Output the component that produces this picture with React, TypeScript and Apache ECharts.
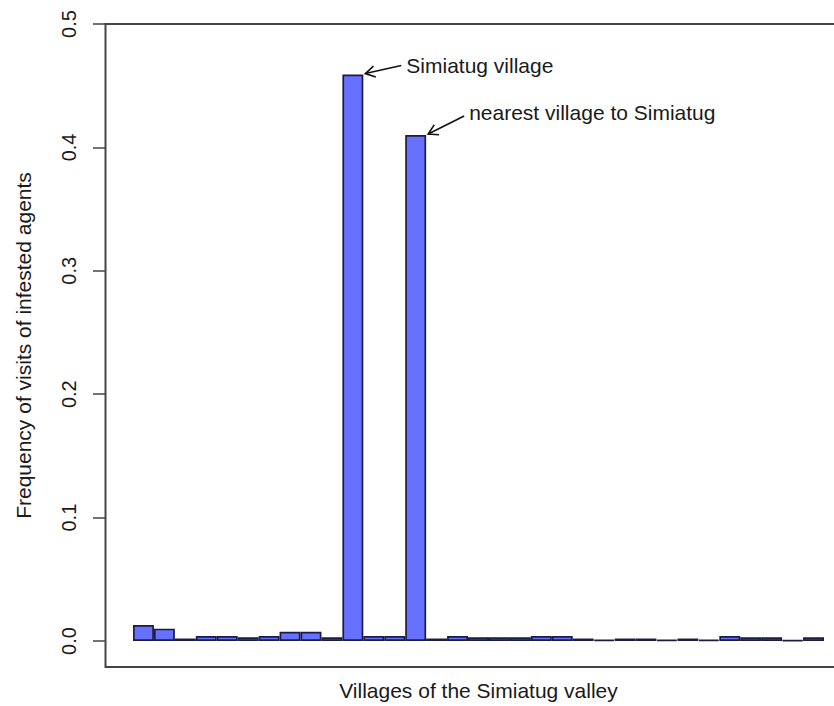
import React, { useEffect, useRef } from "react";
import * as echarts from "echarts";

const villages: string[] = [
  "1", "2", "3", "4", "5", "6", "7", "8", "9", "10", "11",
  "12", "13", "14", "15", "16", "17", "18", "19", "20", "21", "22",
  "23", "24", "25", "26", "27", "28", "29", "30", "31", "32", "33",
];

const frequencies: number[] = [
  0.013, 0.010, 0.002, 0.004, 0.004, 0.003, 0.004, 0.0075, 0.0075, 0.003, 0.459,
  0.004, 0.004, 0.41, 0.002, 0.004, 0.003, 0.003, 0.003, 0.004, 0.004, 0.002,
  0.001, 0.002, 0.002, 0.001, 0.002, 0.001, 0.004, 0.003, 0.003, 0.0005, 0.003,
];

const yTicks: number[] = [0, 0.1, 0.2, 0.3, 0.4, 0.5];

const annotations = [
  { index: 10, label: "Simiatug village" },
  { index: 13, label: "nearest village to Simiatug" },
];

const xTitle = "Villages of the Simiatug valley";
const yTitle = "Frequency of visits of infested agents";

const FONT = "'Liberation Sans', Arial, Helvetica, sans-serif";
const TEXT_COLOR = "#1a1a1a";
const LINE_COLOR = "#444444";

export default function App() {
  const ref = useRef<HTMLDivElement>(null);

  useEffect(() => {
    if (!ref.current) return;
    const chart = echarts.init(ref.current, undefined, { renderer: "svg" });
    chart.setOption({
      animation: false,
      backgroundColor: "#ffffff",
      grid: { left: 133, right: 10, top: 24, bottom: 65 },
      xAxis: {
        type: "category",
        data: villages,
        boundaryGap: true,
        axisLine: { show: false },
        axisTick: { show: false },
        axisLabel: { show: false },
        splitLine: { show: false },
        name: xTitle,
        nameLocation: "middle",
        nameGap: 39,
        nameTextStyle: { fontFamily: FONT, fontSize: 21, color: TEXT_COLOR },
      },
      yAxis: {
        type: "value",
        min: yTicks[0],
        max: yTicks[yTicks.length - 1],
        interval: 0.1,
        offset: 28,
        axisLine: { show: false },
        axisTick: {
          show: true,
          length: 12,
          lineStyle: { color: LINE_COLOR, width: 1.5 },
        },
        splitLine: { show: false },
        axisLabel: {
          rotate: 90,
          margin: 26,
          fontFamily: FONT,
          fontSize: 20,
          color: TEXT_COLOR,
          formatter: (v: number) => v.toFixed(1),
        },
      },
      series: [
        {
          type: "bar",
          data: frequencies,
          barCategoryGap: "0%",
          itemStyle: {
            color: "#6672ff",
            borderColor: "#1c1c40",
            borderWidth: 1.7,
          },
        },
      ],
    });

    // Build annotation graphics from the data positions
    const p0 = chart.convertToPixel({ seriesIndex: 0 }, [0, 0]) as number[];
    const p1 = chart.convertToPixel({ seriesIndex: 0 }, [1, 0]) as number[];
    const barW = Math.abs(p1[0] - p0[0]);
    const yZero = p0[1];
    const yTop = chart.convertToPixel({ yAxisIndex: 0 }, yTicks[yTicks.length - 1]) as number;

    const graphics: any[] = [];
    // plot frame (box)
    const boxLeft = p0[0] - barW / 2 - 27.5;
    const boxRight = p0[0] - barW / 2 + barW * villages.length + 27.5;
    const boxBottom = yZero + 26;
    graphics.push({
      type: "rect",
      shape: { x: boxLeft, y: yTop, width: boxRight - boxLeft, height: boxBottom - yTop },
      style: { fill: "none", stroke: LINE_COLOR, lineWidth: 2 },
      silent: true,
      z: 10,
    });
    // y axis title
    graphics.push({
      type: "text",
      x: 23,
      y: (yTop + boxBottom) / 2,
      rotation: Math.PI / 2,
      style: {
        text: yTitle,
        x: 0,
        y: 0,
        align: "center",
        verticalAlign: "middle",
        fontFamily: FONT,
        fontSize: 21,
        fill: TEXT_COLOR,
      },
      silent: true,
    });

    const slopes = [-8, -18];
    annotations.forEach((a, k) => {
      const c = chart.convertToPixel({ seriesIndex: 0 }, [a.index, frequencies[a.index]]) as number[];
      const tipX = c[0] + barW / 2 + 2;
      const tipY = c[1] - 1;
      const tailX = tipX + 36;
      const tailY = tipY + slopes[k];
      const dx = tailX - tipX;
      const dy = tailY - tipY;
      const len = Math.hypot(dx, dy);
      const ux = dx / len;
      const uy = dy / len;
      const L = 11;
      const ang = Math.PI / 6;
      const w1 = [
        tipX + L * (ux * Math.cos(ang) - uy * Math.sin(ang)),
        tipY + L * (ux * Math.sin(ang) + uy * Math.cos(ang)),
      ];
      const w2 = [
        tipX + L * (ux * Math.cos(-ang) - uy * Math.sin(-ang)),
        tipY + L * (ux * Math.sin(-ang) + uy * Math.cos(-ang)),
      ];
      graphics.push({
        type: "line",
        shape: { x1: tipX, y1: tipY, x2: tailX, y2: tailY },
        style: { stroke: "#111111", lineWidth: 1.6 },
        silent: true,
        z: 11,
      });
      graphics.push({
        type: "polyline",
        shape: { points: [w1, [tipX, tipY], w2] },
        style: { stroke: "#111111", lineWidth: 1.6, fill: "none" },
        silent: true,
        z: 11,
      });
      graphics.push({
        type: "text",
        x: tailX + 5,
        y: tailY - (k === 1 ? 4 : 0),
        style: {
          text: a.label,
          align: "left",
          verticalAlign: "middle",
          fontFamily: FONT,
          fontSize: 21,
          fill: TEXT_COLOR,
        },
        silent: true,
        z: 11,
      });
    });

    chart.setOption({ graphic: graphics });

    return () => {
      chart.dispose();
    };
  }, []);

  return (
    <div
      ref={ref}
      style={{
        position: "fixed",
        left: 0,
        top: 0,
        width: 834,
        height: 706,
        background: "#ffffff",
      }}
    />
  );
}
